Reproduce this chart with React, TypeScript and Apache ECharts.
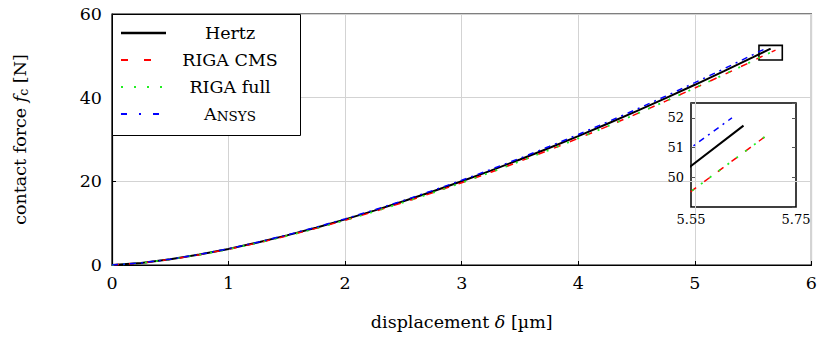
import React, { useEffect, useRef } from "react";
import * as echarts from "echarts";

// displacement δ [µm] and contact force f_c [N]
const hertzX = [0, 0.25, 0.5, 0.75, 1, 1.25, 1.5, 1.75, 2, 2.25, 2.5, 2.75, 3, 3.25, 3.5, 3.75, 4, 4.25, 4.5, 4.75, 5, 5.25, 5.5, 5.65];
const hertzY = [0, 0.48, 1.36, 2.5, 3.85, 5.38, 7.08, 8.92, 10.9, 13.0, 15.23, 17.57, 20.02, 22.57, 25.23, 27.98, 30.82, 33.76, 36.78, 39.89, 43.08, 46.35, 49.7, 51.74];

const ansysX = [0, 0.25, 0.5, 0.75, 1, 1.25, 1.5, 1.75, 2, 2.25, 2.5, 2.75, 3, 3.25, 3.5, 3.75, 4, 4.25, 4.5, 4.75, 5, 5.25, 5.5, 5.55, 5.628];
const ansysY = [0, 0.49, 1.38, 2.53, 3.9, 5.44, 7.17, 9.03, 11.03, 13.16, 15.41, 17.78, 20.26, 22.84, 25.53, 28.32, 31.19, 34.17, 37.22, 40.37, 43.6, 46.91, 50.3, 51.0, 52.0];

const rigaX = [0, 0.25, 0.5, 0.75, 1, 1.25, 1.5, 1.75, 2, 2.25, 2.5, 2.75, 3, 3.25, 3.5, 3.75, 4, 4.25, 4.5, 4.75, 5, 5.25, 5.5, 5.555, 5.692];
const rigaCmsY = [0, 0.47, 1.34, 2.46, 3.78, 5.28, 6.95, 8.76, 10.7, 12.77, 14.96, 17.25, 19.66, 22.16, 24.78, 27.48, 30.27, 33.15, 36.12, 39.17, 42.3, 45.52, 48.81, 49.59, 51.38];
const rigaFullY = [0, 0.47, 1.34, 2.46, 3.78, 5.28, 6.95, 8.76, 10.7, 12.77, 14.96, 17.25, 19.66, 22.16, 24.78, 27.48, 30.27, 33.15, 36.12, 39.17, 42.3, 45.52, 48.81, 49.59, 51.38];

const xTicks = [0, 1, 2, 3, 4, 5, 6];
const yTicks = [0, 20, 40, 60];
const insetXRange = [5.55, 5.75];
const insetYRange = [49, 52.5];
const insetXTicks = [5.55, 5.75];
const insetYTicks = [50, 51, 52];

const legendNames = ["Hertz", "RIGA CMS", "RIGA full", "Ansys"];

const FONT = "DejaVu Serif";
const FS = 17.5;

const pairs = (xs: number[], ys: number[]) => xs.map((x, i) => [x, ys[i]]);

const styles = [
  { color: "#000000", width: 2, type: "solid" as any },
  { color: "#ff0000", width: 1.5, type: [7, 10] as any },
  { color: "#22ee22", width: 1.8, type: [2, 9] as any },
  { color: "#0000ff", width: 1.5, type: [6, 5, 2, 5] as any },
];

export default function App() {
  const ref = useRef<HTMLDivElement>(null);
  useEffect(() => {
    if (!ref.current) return;
    const chart = echarts.init(ref.current, undefined, { renderer: "svg" });
    const datasets = [
      pairs(hertzX, hertzY),
      pairs(rigaX, rigaCmsY),
      pairs(rigaX, rigaFullY),
      pairs(ansysX, ansysY),
    ];
    const series: any[] = [];
    datasets.forEach((d, i) => {
      const s = styles[i];
      series.push({
        type: "line",
        name: legendNames[i],
        data: d,
        xAxisIndex: 0,
        yAxisIndex: 0,
        showSymbol: false,
        symbol: "none",
        smooth: false,
        clip: true,
        lineStyle: { color: s.color, width: s.width, type: s.type },
        z: 3 + i,
        ...(i === 0
          ? {
              markArea: {
                silent: true,
                itemStyle: { color: "rgba(0,0,0,0)", borderColor: "#000", borderWidth: 1.6 },
                data: [[{ coord: [insetXRange[0], insetYRange[0]] }, { coord: [insetXRange[1], insetYRange[1]] }]],
              },
            }
          : {}),
      });
      series.push({
        type: "line",
        name: legendNames[i] + " inset",
        data: d,
        xAxisIndex: 1,
        yAxisIndex: 1,
        showSymbol: false,
        symbol: "none",
        clip: true,
        lineStyle: { color: s.color, width: s.width, type: s.type },
        z: 5,
      });
    });

    const legendRowsY = [33, 60, 87, 114];
    const legendGraphics: any[] = [
      {
        type: "rect",
        shape: { x: 112.5, y: 14.5, width: 188, height: 121 },
        style: { fill: "#fff", stroke: "#000", lineWidth: 1 },
        z: 10,
      },
    ];
    legendRowsY.forEach((y, i) => {
      const s = styles[i];
      legendGraphics.push({
        type: "line",
        shape: { x1: 121, y1: y, x2: 166, y2: y },
        style: {
          stroke: s.color,
          lineWidth: i === 0 ? 2.5 : 2,
          lineDash: i === 0 ? null : i === 1 ? [7, 16] : i === 2 ? [2, 11] : [6, 12, 2, 12],
        },
        z: 11,
      });
      if (i < 3) {
        legendGraphics.push({
          type: "text",
          x: 230,
          y: y,
          style: { text: legendNames[i], font: `${FS}px "${FONT}"`, fill: "#000", align: "center", verticalAlign: "middle" },
          z: 11,
        });
      } else {
        legendGraphics.push({
          type: "text",
          x: 230,
          y: y,
          style: {
            text: "{a|A}{b|NSYS}",
            align: "center",
            verticalAlign: "middle",
            rich: {
              a: { fontFamily: FONT, fontSize: FS, fill: "#000", color: "#000" },
              b: { fontFamily: FONT, fontSize: 13.5, fill: "#000", color: "#000", padding: [3, 0, 0, 0] },
            },
          },
          z: 11,
        });
      }
    });

    chart.setOption({
      animation: false,
      grid: [
        { left: 112, right: 8, top: 14, bottom: 72, show: true, borderColor: "#000", borderWidth: 1.2, backgroundColor: "transparent" },
        { left: 691, top: 103, width: 105, height: 104, show: true, borderColor: "#000", borderWidth: 1.5, backgroundColor: "transparent" },
      ],
      xAxis: [
        {
          type: "value",
          gridIndex: 0,
          min: xTicks[0],
          max: xTicks[xTicks.length - 1],
          interval: 1,
          name: "{n|displacement }{i|δ}{n| [µm]}",
          nameLocation: "middle",
          nameGap: 48,
          nameTextStyle: {
            rich: {
              n: { fontFamily: FONT, fontSize: FS, color: "#000" },
              i: { fontFamily: FONT, fontSize: FS, fontStyle: "italic", color: "#000" },
            },
          },
          axisLine: { show: true, lineStyle: { color: "#000", width: 1.2 } },
          axisTick: { show: true, inside: true, length: 4, lineStyle: { color: "#000" } },
          axisLabel: { fontFamily: FONT, fontSize: FS, color: "#000", margin: 9 },
          splitLine: { show: true, lineStyle: { color: "#d3d3d3", width: 1 } },
        },
        {
          type: "value",
          gridIndex: 1,
          min: insetXRange[0],
          max: insetXRange[1],
          interval: 0.05,
          axisLine: { show: false },
          axisTick: { show: false },
          axisLabel: {
            fontFamily: FONT,
            fontSize: 13,
            color: "#000",
            margin: 6,
            formatter: (v: number) => (insetXTicks.some((t) => Math.abs(t - v) < 1e-6) ? v.toFixed(2) : ""),
          },
          splitLine: { show: false },
        },
      ],
      yAxis: [
        {
          type: "value",
          gridIndex: 0,
          min: yTicks[0],
          max: yTicks[yTicks.length - 1],
          interval: 20,
          name: "{n|contact force }{i|f}{s|c}{n| [N]}",
          nameLocation: "middle",
          nameGap: 82,
          nameRotate: 90,
          nameTextStyle: {
            rich: {
              n: { fontFamily: FONT, fontSize: FS, color: "#000" },
              i: { fontFamily: FONT, fontSize: FS, fontStyle: "italic", color: "#000" },
              s: { fontFamily: FONT, fontSize: 12.5, color: "#000", padding: [7, 0, 0, 0] },
            },
          },
          axisLine: { show: true, lineStyle: { color: "#000", width: 1.2 } },
          axisTick: { show: true, inside: true, length: 4, lineStyle: { color: "#000" } },
          axisLabel: { fontFamily: FONT, fontSize: FS, color: "#000", margin: 10 },
          splitLine: { show: true, lineStyle: { color: "#d3d3d3", width: 1 } },
        },
        {
          type: "value",
          gridIndex: 1,
          min: insetYRange[0],
          max: insetYRange[1],
          interval: 1,
          axisLine: { show: false },
          axisTick: { show: true, inside: true, length: 4, lineStyle: { color: "#555" } },
          axisLabel: {
            fontFamily: FONT,
            fontSize: 13,
            color: "#000",
            margin: 7,
            formatter: (v: number) => (insetYTicks.some((t) => Math.abs(t - v) < 1e-6) ? String(v) : ""),
          },
          splitLine: { show: false },
        },
        {
          type: "value",
          gridIndex: 1,
          position: "right",
          min: insetYRange[0],
          max: insetYRange[1],
          interval: 1,
          axisLine: { show: false },
          axisTick: { show: true, inside: true, length: 4, lineStyle: { color: "#555" } },
          axisLabel: { show: false },
          splitLine: { show: false },
        },
      ],
      series,
      graphic: legendGraphics,
    });
    return () => chart.dispose();
  }, []);
  return <div ref={ref} style={{ position: "absolute", left: 0, top: 0, width: 820, height: 337 }} />;
}
